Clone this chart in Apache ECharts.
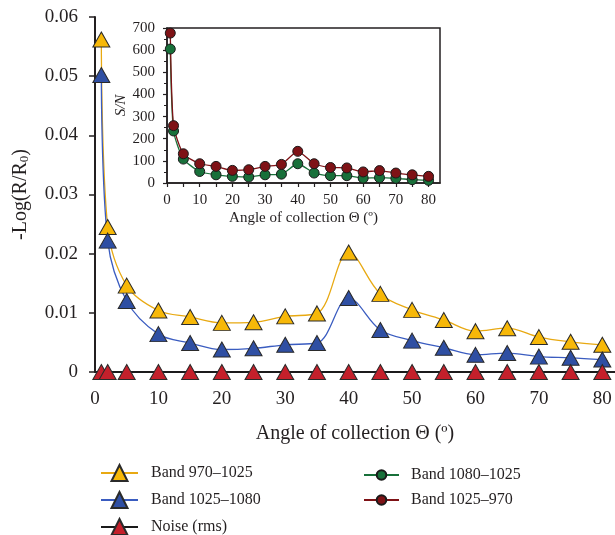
<!DOCTYPE html>
<html>
<head>
<meta charset="utf-8">
<script src="https://cdn.jsdelivr.net/npm/echarts@6/dist/echarts.min.js"></script>
<style>
  html, body { margin: 0; padding: 0; background: #fff; }
  #chart { width: 615px; height: 535px; }
</style>
</head>
<body>
<div id="chart"></div>
<script>
// angles of collection (deg)
var angles = [1, 2, 5, 10, 15, 20, 25, 30, 35, 40, 45, 50, 55, 60, 65, 70, 75, 80];
// -Log(R/R0)
var band970_1025 = [0.0562, 0.0245, 0.0146, 0.0104, 0.0093, 0.0083, 0.0084, 0.0094, 0.0099, 0.0202, 0.0132, 0.0105, 0.0088, 0.0069, 0.0074, 0.0059, 0.0051, 0.0046];
var band1025_1080 = [0.0502, 0.0222, 0.0120, 0.0064, 0.0049, 0.0038, 0.0040, 0.0046, 0.0049, 0.0125, 0.0071, 0.0053, 0.0041, 0.0029, 0.0032, 0.0026, 0.0024, 0.0021];
var noiseRms = [0, 0, 0, 0, 0, 0, 0, 0, 0, 0, 0, 0, 0, 0, 0, 0, 0, 0];
// S/N (inset)
var sn1080_1025 = [605, 235, 108, 52, 37, 30, 27, 37, 40, 87, 45, 33, 33, 22, 24, 21, 15, 12];
var sn1025_970 = [677, 259, 132, 87, 75, 57, 60, 75, 84, 143, 87, 70, 68, 50, 56, 45, 37, 30];

var mainXTicks = [0, 10, 20, 30, 40, 50, 60, 70, 80];
var insetXLabels = [0, 10, 20, 30, 40, 50, 60, 70, 80];
var insetXTicks = [0, 5, 10, 15, 20, 25, 30, 35, 40, 45, 50, 55, 60, 65, 70, 75, 80];

var leftNames = ['Band 970\u20131025', 'Band 1025\u20131080', 'Noise (rms)'];
var rightNames = ['Band 1080\u20131025', 'Band 1025\u2013970'];

function pairs(ys) {
  return angles.map(function (a, i) { return [a, ys[i]]; });
}

var font = 'Liberation Serif';
var ink = '#231f20';
var chart = echarts.init(document.getElementById('chart'));

var mainSeries = function (name, ys, fill, line) {
  return {
    name: name, type: 'line', xAxisIndex: 0, yAxisIndex: 0,
    data: pairs(ys), smooth: 0.35,
    symbol: 'triangle', symbolSize: [17, 15],
    lineStyle: {color: line, width: 1.3},
    itemStyle: {color: fill, borderColor: '#2a2a2a', borderWidth: 1},
    emphasis: {disabled: true}
  };
};
var insetSeries = function (name, ys, fill) {
  return {
    name: name, type: 'line', xAxisIndex: 2, yAxisIndex: 1, z: 10,
    data: pairs(ys), smooth: 0.2,
    symbol: 'circle', symbolSize: 10,
    lineStyle: {color: fill, width: 1.3},
    itemStyle: {color: fill, borderColor: '#1a1a1a', borderWidth: 1},
    emphasis: {disabled: true}
  };
};

// one legend per row so nothing wraps
var legends = [];
leftNames.forEach(function (n, i) {
  legends.push({
    left: 95, top: 459 + i * 27, itemWidth: 37, itemHeight: 20,
    data: [n],
    textStyle: {fontFamily: font, fontSize: 16, color: ink, padding: [0, 0, 0, 8]}
  });
});
rightNames.forEach(function (n, i) {
  legends.push({
    left: 358, top: 462 + i * 25, itemWidth: 35, itemHeight: 12,
    data: [n],
    textStyle: {fontFamily: font, fontSize: 16, color: ink, padding: [0, 0, 0, 7]}
  });
});

var option = {
  animation: false,
  backgroundColor: '#fff',
  textStyle: {fontFamily: font, color: ink},
  grid: [
    {left: 95, right: 0, top: 17, bottom: 163},
    {left: 167, right: 175, top: 28, bottom: 352, show: true, borderColor: ink, borderWidth: 1.5, backgroundColor: '#fff'}
  ],
  legend: legends,
  xAxis: [
    {
      type: 'value', gridIndex: 0, min: 0, max: 82, interval: 10,
      name: 'Angle of collection \u0398 (\u00ba)', nameLocation: 'middle', nameGap: 52,
      nameTextStyle: {fontFamily: font, fontSize: 20, color: ink},
      axisLine: {onZero: false, lineStyle: {color: ink, width: 2}},
      axisTick: {show: false},
      axisLabel: {customValues: mainXTicks, fontFamily: font, fontSize: 19, color: ink, margin: 18},
      splitLine: {show: false}
    },
    {
      type: 'value', gridIndex: 0, position: 'top', min: 0, max: 82,
      axisLine: {show: true, lineStyle: {color: ink, width: 1.5}},
      axisTick: {show: false}, axisLabel: {show: false}, splitLine: {show: false}
    },
    {
      type: 'value', gridIndex: 1, min: 0, max: 83.5, interval: 10,
      name: 'Angle of collection \u0398 (\u00ba)', nameLocation: 'middle', nameGap: 28,
      nameTextStyle: {fontFamily: font, fontSize: 15, color: ink},
      axisLine: {onZero: false, lineStyle: {color: ink, width: 1.5}},
      axisTick: {show: true, customValues: insetXTicks, length: 4, lineStyle: {color: ink, width: 1.2}},
      axisLabel: {customValues: insetXLabels, fontFamily: font, fontSize: 15, color: ink, margin: 10},
      splitLine: {show: false}
    }
  ],
  yAxis: [
    {
      type: 'value', gridIndex: 0, min: 0, max: 0.06, interval: 0.01,
      name: '-Log(R/R{sub|0})', nameLocation: 'middle', nameGap: 64,
      nameTextStyle: {
        fontFamily: font, fontSize: 20, color: ink,
        rich: {sub: {fontFamily: font, fontSize: 13, color: ink, verticalAlign: 'bottom', padding: [8, 0, 0, 0]}}
      },
      axisLine: {show: true, lineStyle: {color: ink, width: 2}},
      axisTick: {show: true, length: 6, lineStyle: {color: ink, width: 1.5}},
      axisLabel: {
        fontFamily: font, fontSize: 19, color: ink, margin: 17,
        formatter: function (v) { return v === 0 ? '0' : v.toFixed(2); }
      },
      splitLine: {show: false}
    },
    {
      type: 'value', gridIndex: 1, min: 0, max: 700, interval: 100,
      name: 'S/N', nameLocation: 'middle', nameGap: 38,
      nameTextStyle: {fontFamily: font, fontSize: 15, fontStyle: 'italic', color: ink},
      axisLine: {show: true, lineStyle: {color: ink, width: 1.5}},
      axisTick: {show: true, length: 4, lineStyle: {color: ink, width: 1.2}},
      minorTick: {show: true, splitNumber: 2, length: 3, lineStyle: {color: ink, width: 1}},
      axisLabel: {fontFamily: font, fontSize: 15, color: ink, margin: 12},
      splitLine: {show: false}
    }
  ],
  series: [
    mainSeries('Band 970\u20131025', band970_1025, '#f7b808', '#e8a912'),
    mainSeries('Band 1025\u20131080', band1025_1080, '#2f4fa3', '#3a5cc0'),
    mainSeries('Noise (rms)', noiseRms, '#c4202b', '#1a1a1a'),
    insetSeries('Band 1080\u20131025', sn1080_1025, '#18703a'),
    insetSeries('Band 1025\u2013970', sn1025_970, '#7e1216')
  ]
};
chart.setOption(option);
</script>
</body>
</html>
